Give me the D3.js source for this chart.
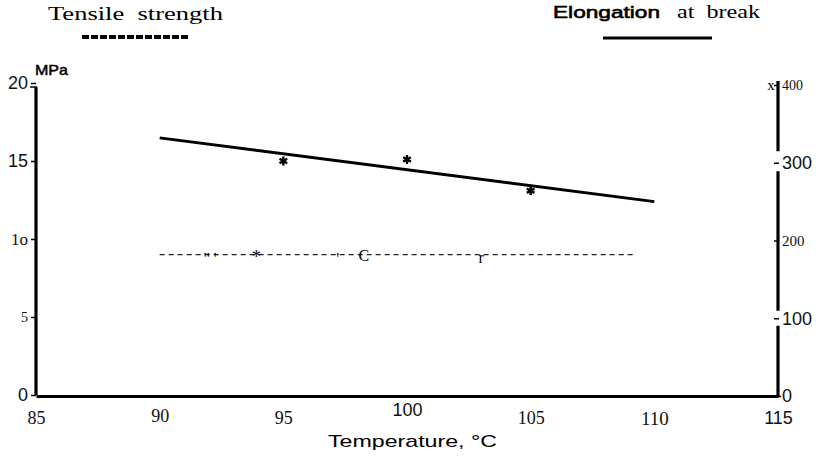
<!DOCTYPE html>
<html><head><meta charset="utf-8">
<script src="https://cdn.jsdelivr.net/npm/d3@7"></script>
<style>body{margin:0;background:#fff}svg{display:block}</style>
</head><body><svg id="c" width="816" height="460"></svg>
<script>
// ---- data ----
const xTicks = [85, 90, 95, 100, 105, 110, 115];
const xTickLabels = ["85", "90", "95", "100", "105", "110", "115"];
const leftTicks = [0, 5, 10, 15, 20];
const leftTickLabels = ["0", "5", "1o", "15", "20"];
const rightTicks = [0, 100, 200, 300, 400];
const rightTickLabels = ["0", "100", "200", "300", "400"];
// Elongation at break (%) – solid line, right axis
const elongTemp = [90, 110];
const elongValues = [332, 250];
// measured points (MPa), left axis
const pointTemp = [95, 100, 105];
const pointValues = [15.0, 15.1, 13.1];
// Tensile strength (MPa) – dashed line
const tensileTemp = [90, 109.2];
const tensileValues = [9.0, 9.0];
// stray glyphs on the dashed line (scan artefacts)
const glyphTemp = [91.9, 92.25, 93.9, 97.2, 98.25, 103.0];
const glyphText = ['"', "'", "*", "'", "C", "r"];

// ---- styles ----
const SERIF = "'Liberation Serif','DejaVu Serif',serif";
const SANS = "'Liberation Sans','DejaVu Sans',sans-serif";
const sansLabels = new Set(["100_x", "115_x", "0_l", "15_l", "20_l", "0_r", "100_r", "300_r"]);

const svg = d3.select("#c");
const x = d3.scaleLinear().domain([85, 115]).range([36, 778]);
const yL = d3.scaleLinear().domain([0, 20]).range([395, 83]);
const yR = d3.scaleLinear().domain([0, 400]).range([396, 85]);

// ---- axes ----
const gx = svg.append("g").attr("transform", "translate(0,396)")
  .call(d3.axisBottom(x).tickValues(xTicks).tickSize(0).tickPadding(12)
    .tickFormat((d, i) => xTickLabels[i]));
gx.select(".domain").attr("stroke", "#000").attr("stroke-width", 3.2);
gx.selectAll(".tick text").attr("fill", "#111")
  .style("font-family", d => sansLabels.has(d + "_x") ? SANS : SERIF)
  .style("font-size", d => d === 110 ? "19px" : "18px")
  .attr("dy", d => d === 100 ? "0.45em" : (d === 90 ? "0.75em" : "0.9em"));

const gl = svg.append("g").attr("transform", "translate(36,0)")
  .call(d3.axisLeft(yL).tickValues(leftTicks).tickSize(5).tickSizeOuter(0).tickPadding(3)
    .tickFormat((d, i) => leftTickLabels[i]));
gl.select(".domain").attr("stroke", "#000").attr("stroke-width", 3.2)
  .attr("d", "M0," + (yL(20) + 4) + "V" + yL(0));
gl.selectAll(".tick line").attr("stroke", "#000").attr("stroke-width", 1.5);
gl.selectAll(".tick text").attr("fill", "#111")
  .style("font-family", d => sansLabels.has(d + "_l") ? SANS : SERIF)
  .style("font-size", d => d === 5 ? "14px" : (d === 10 ? "17px" : "18px"));

const gr = svg.append("g").attr("transform", "translate(778,0)")
  .call(d3.axisRight(yR).tickValues(rightTicks).tickSize(0).tickSizeOuter(0).tickPadding(4)
    .tickFormat((d, i) => rightTickLabels[i]));
gr.select(".domain").attr("stroke", "#000").attr("stroke-width", 3.2)
  .attr("d", "M0," + (yR(400) - 4) + "V" + yR(0));
gr.selectAll(".tick text").attr("fill", "#111")
  .style("font-family", d => sansLabels.has(d + "_r") ? SANS : SERIF)
  .style("font-size", d => sansLabels.has(d + "_r") ? "18px" : (d === 400 ? "14px" : "15px"));
// gaps in the right axis behind the big labels + small ticks
gr.selectAll(".tick").filter(d => d === 300 || d === 100)
  .insert("rect", "text").attr("x", -2).attr("y", d => d === 300 ? -12 : -8)
  .attr("width", 4).attr("height", d => d === 300 ? 20 : 15).attr("fill", "#fff");
gr.selectAll(".tick").append("line")
  .attr("x1", d => d === 0 ? -9 : -4).attr("x2", d => d === 0 ? 3 : 1)
  .attr("stroke", "#000").attr("stroke-width", 1.5);
// top hook on the left axis
svg.append("line").attr("x1", 30).attr("x2", 37).attr("y1", yL(20) + 4).attr("y2", yL(20) + 4)
  .attr("stroke", "#000").attr("stroke-width", 1.5);
svg.append("text").attr("x", 771).attr("y", yR(400) + 5).text("x")
  .style("font-family", SERIF).style("font-size", "15px").attr("text-anchor", "middle");

// unit
svg.append("text").attr("x", 35).attr("y", 75).text("MPa")
  .style("font-family", SANS).style("font-size", "15px")
  .attr("stroke", "#000").attr("stroke-width", 0.5)
  .attr("textLength", 33).attr("lengthAdjust", "spacingAndGlyphs");

// axis title
svg.append("text").attr("x", 328).attr("y", 447).text("Temperature, °C")
  .style("font-family", SANS).style("font-size", "17px")
  .attr("textLength", 169).attr("lengthAdjust", "spacingAndGlyphs");

// ---- legend ----
svg.append("text").attr("x", 48).attr("y", 20).text("Tensile  strength")
  .style("font-family", SERIF).style("font-size", "18px").style("white-space", "pre")
  .attr("textLength", 175).attr("lengthAdjust", "spacingAndGlyphs");
svg.append("line").attr("x1", 82).attr("x2", 190).attr("y1", 37).attr("y2", 37)
  .attr("stroke", "#000").attr("stroke-width", 4).attr("stroke-dasharray", "7,2");
svg.append("text").attr("x", 553).attr("y", 18).text("Elongation")
  .style("font-family", SANS).style("font-size", "17px")
  .attr("stroke", "#000").attr("stroke-width", 0.6)
  .attr("textLength", 107).attr("lengthAdjust", "spacingAndGlyphs");
svg.append("text").attr("x", 677).attr("y", 18).text("at  break")
  .style("font-family", SERIF).style("font-size", "18px").style("white-space", "pre")
  .attr("textLength", 83).attr("lengthAdjust", "spacingAndGlyphs");
svg.append("line").attr("x1", 603).attr("x2", 712).attr("y1", 38).attr("y2", 38)
  .attr("stroke", "#000").attr("stroke-width", 3);

// ---- marks ----
const elong = elongTemp.map((t, i) => [t, elongValues[i]]);
svg.append("path").datum(elong)
  .attr("d", d3.line().x(d => x(d[0])).y(d => yR(d[1])))
  .attr("fill", "none").attr("stroke", "#000").attr("stroke-width", 3);

const tens = tensileTemp.map((t, i) => [t, tensileValues[i]]);
svg.append("path").datum(tens)
  .attr("d", d3.line().x(d => x(d[0])).y(d => yL(d[1])))
  .attr("fill", "none").attr("stroke", "#222").attr("stroke-width", 1.2)
  .attr("stroke-dasharray", "5,4");

svg.selectAll("text.glyph").data(glyphTemp).enter().append("text").attr("class", "glyph")
  .attr("x", d => x(d)).attr("y", (d, i) => {
    const g = glyphText[i];
    return yL(tensileValues[0]) + (g === "C" ? 6 : g === "r" ? 8 : g === "*" ? 8 : 9);
  })
  .attr("text-anchor", "middle").text((d, i) => glyphText[i])
  .style("font-family", SERIF).style("font-size", (d, i) => glyphText[i] === "*" ? "19px" : "16px")
  .attr("fill", "#000");

svg.selectAll("path.pt").data(pointTemp).enter().append("path").attr("class", "pt")
  .attr("transform", (d, i) => `translate(${x(d)},${yL(pointValues[i])})`)
  .attr("d", d3.symbol(d3.symbolAsterisk, 55))
  .attr("fill", "none").attr("stroke", "#000").attr("stroke-width", 2.4);
</script></body></html>
